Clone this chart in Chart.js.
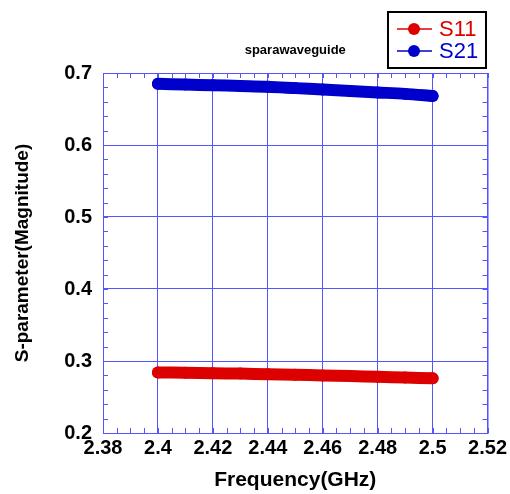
<!DOCTYPE html>
<html>
<head>
<meta charset="utf-8">
<script src="https://cdn.jsdelivr.net/npm/chart.js@4/dist/chart.umd.min.js"></script>
<style>
  html, body { margin: 0; padding: 0; background: #fff; }
  #wrap { width: 510px; height: 494px; }
</style>
</head>
<body>
<div id="wrap"><canvas id="c"></canvas></div>
<script>
// frequency points (GHz)
const freq = [2.40, 2.41, 2.42, 2.43, 2.44, 2.45, 2.46, 2.47, 2.48, 2.49, 2.50];
// S-parameter magnitudes
const s11 = [0.284, 0.2838, 0.283, 0.2825, 0.2815, 0.281, 0.280, 0.279, 0.278, 0.277, 0.276];
const s21 = [0.685, 0.684, 0.683, 0.682, 0.681, 0.679, 0.677, 0.675, 0.673, 0.671, 0.668];

const xTicks = [2.38, 2.40, 2.42, 2.44, 2.46, 2.48, 2.50, 2.52];
const yTicks = [0.2, 0.3, 0.4, 0.5, 0.6, 0.7];

const RED = '#dd0000';
const BLUE = '#0000cc';
const GRID = '#5555ff';
const FONT = '"Liberation Sans", Arial, sans-serif';

const pts = (ys) => freq.map((f, i) => ({ x: f, y: ys[i] }));

// frame, minor ticks, title and legend box
const decor = {
  id: 'decor',
  afterDraw(chart) {
    const { ctx, chartArea: a, scales } = chart;
    const xs = scales.x, ys = scales.y;
    ctx.save();
    ctx.strokeStyle = GRID;
    ctx.lineWidth = 1;
    ctx.strokeRect(a.left + 0.5, a.top + 0.5, a.right - a.left, a.bottom - a.top);
    ctx.beginPath();
    for (let v = 2.38; v <= 2.5201; v += 0.005) {
      const px = Math.round(xs.getPixelForValue(v)) + 0.5;
      ctx.moveTo(px, a.bottom); ctx.lineTo(px, a.bottom - 5);
      ctx.moveTo(px, a.top); ctx.lineTo(px, a.top + 5);
    }
    for (let v = 0.2; v <= 0.7001; v += 0.02) {
      const py = Math.round(ys.getPixelForValue(v)) + 0.5;
      ctx.moveTo(a.left, py); ctx.lineTo(a.left + 5, py);
      ctx.moveTo(a.right, py); ctx.lineTo(a.right - 5, py);
    }
    ctx.stroke();

    // title
    ctx.fillStyle = '#000';
    ctx.font = 'bold 13px ' + FONT;
    ctx.textAlign = 'center';
    ctx.textBaseline = 'middle';
    ctx.fillText('sparawaveguide', (a.left + a.right) / 2, 50);

    // legend
    const bx = 388, by = 12, bw = 98, bh = 56;
    ctx.fillStyle = '#fff';
    ctx.fillRect(bx, by, bw, bh);
    ctx.strokeStyle = '#000';
    ctx.lineWidth = 2;
    ctx.strokeRect(bx, by, bw, bh);
    chart.data.datasets.forEach((ds, i) => {
      const y = 29 + i * 22;
      ctx.strokeStyle = ds.borderColor;
      ctx.lineWidth = 1.5;
      ctx.beginPath();
      ctx.moveTo(397, y); ctx.lineTo(432, y);
      ctx.stroke();
      ctx.fillStyle = ds.borderColor;
      ctx.beginPath();
      ctx.arc(414, y, 6, 0, Math.PI * 2);
      ctx.fill();
      ctx.font = '22px ' + FONT;
      ctx.textAlign = 'left';
      ctx.fillText(ds.label, 439, y + 1);
    });
    ctx.restore();
  }
};

new Chart(document.getElementById('c'), {
  type: 'line',
  data: {
    datasets: [
      {
        label: 'S11',
        data: pts(s11),
        borderColor: RED,
        backgroundColor: RED,
        borderWidth: 12,
        borderCapStyle: 'round',
        borderJoinStyle: 'round',
        pointRadius: 6,
        pointBorderWidth: 0,
        tension: 0.3
      },
      {
        label: 'S21',
        data: pts(s21),
        borderColor: BLUE,
        backgroundColor: BLUE,
        borderWidth: 12,
        borderCapStyle: 'round',
        borderJoinStyle: 'round',
        pointRadius: 6,
        pointBorderWidth: 0,
        tension: 0.3
      }
    ]
  },
  options: {
    responsive: true,
    maintainAspectRatio: false,
    animation: false,
    events: [],
    layout: { padding: { left: 0, right: 22, top: 73, bottom: 0 } },
    scales: {
      x: {
        type: 'linear',
        min: 2.38,
        max: 2.52,
        afterFit: (s) => { s.height = 61; },
        afterBuildTicks: (s) => { s.ticks = xTicks.map(v => ({ value: v })); },
        grid: { color: GRID, drawTicks: false },
        border: { color: GRID },
        ticks: {
          padding: 3,
          color: '#000',
          font: { family: FONT, size: 20, weight: 'bold' },
          callback: (v) => String(parseFloat(v.toFixed(2)))
        },
        title: {
          display: true,
          text: 'Frequency(GHz)',
          color: '#000',
          font: { family: FONT, size: 21, weight: 'bold', lineHeight: 1.1 },
          padding: { top: 0, bottom: 2 }
        }
      },
      y: {
        min: 0.2,
        max: 0.7,
        afterFit: (s) => { s.width = 103; },
        afterBuildTicks: (s) => { s.ticks = yTicks.map(v => ({ value: v })); },
        grid: { color: GRID, drawTicks: false },
        border: { color: GRID },
        ticks: {
          padding: 11,
          color: '#000',
          font: { family: FONT, size: 20, weight: 'bold' },
          callback: (v) => String(parseFloat(v.toFixed(1)))
        },
        title: {
          display: true,
          text: 'S-parameter(Magnitude)',
          color: '#000',
          font: { family: FONT, size: 19, weight: 'bold', lineHeight: 1.2 },
          padding: { top: 11, bottom: 0 }
        }
      }
    },
    plugins: {
      legend: { display: false },
      tooltip: { enabled: false }
    }
  },
  plugins: [decor]
});
</script>
</body>
</html>
